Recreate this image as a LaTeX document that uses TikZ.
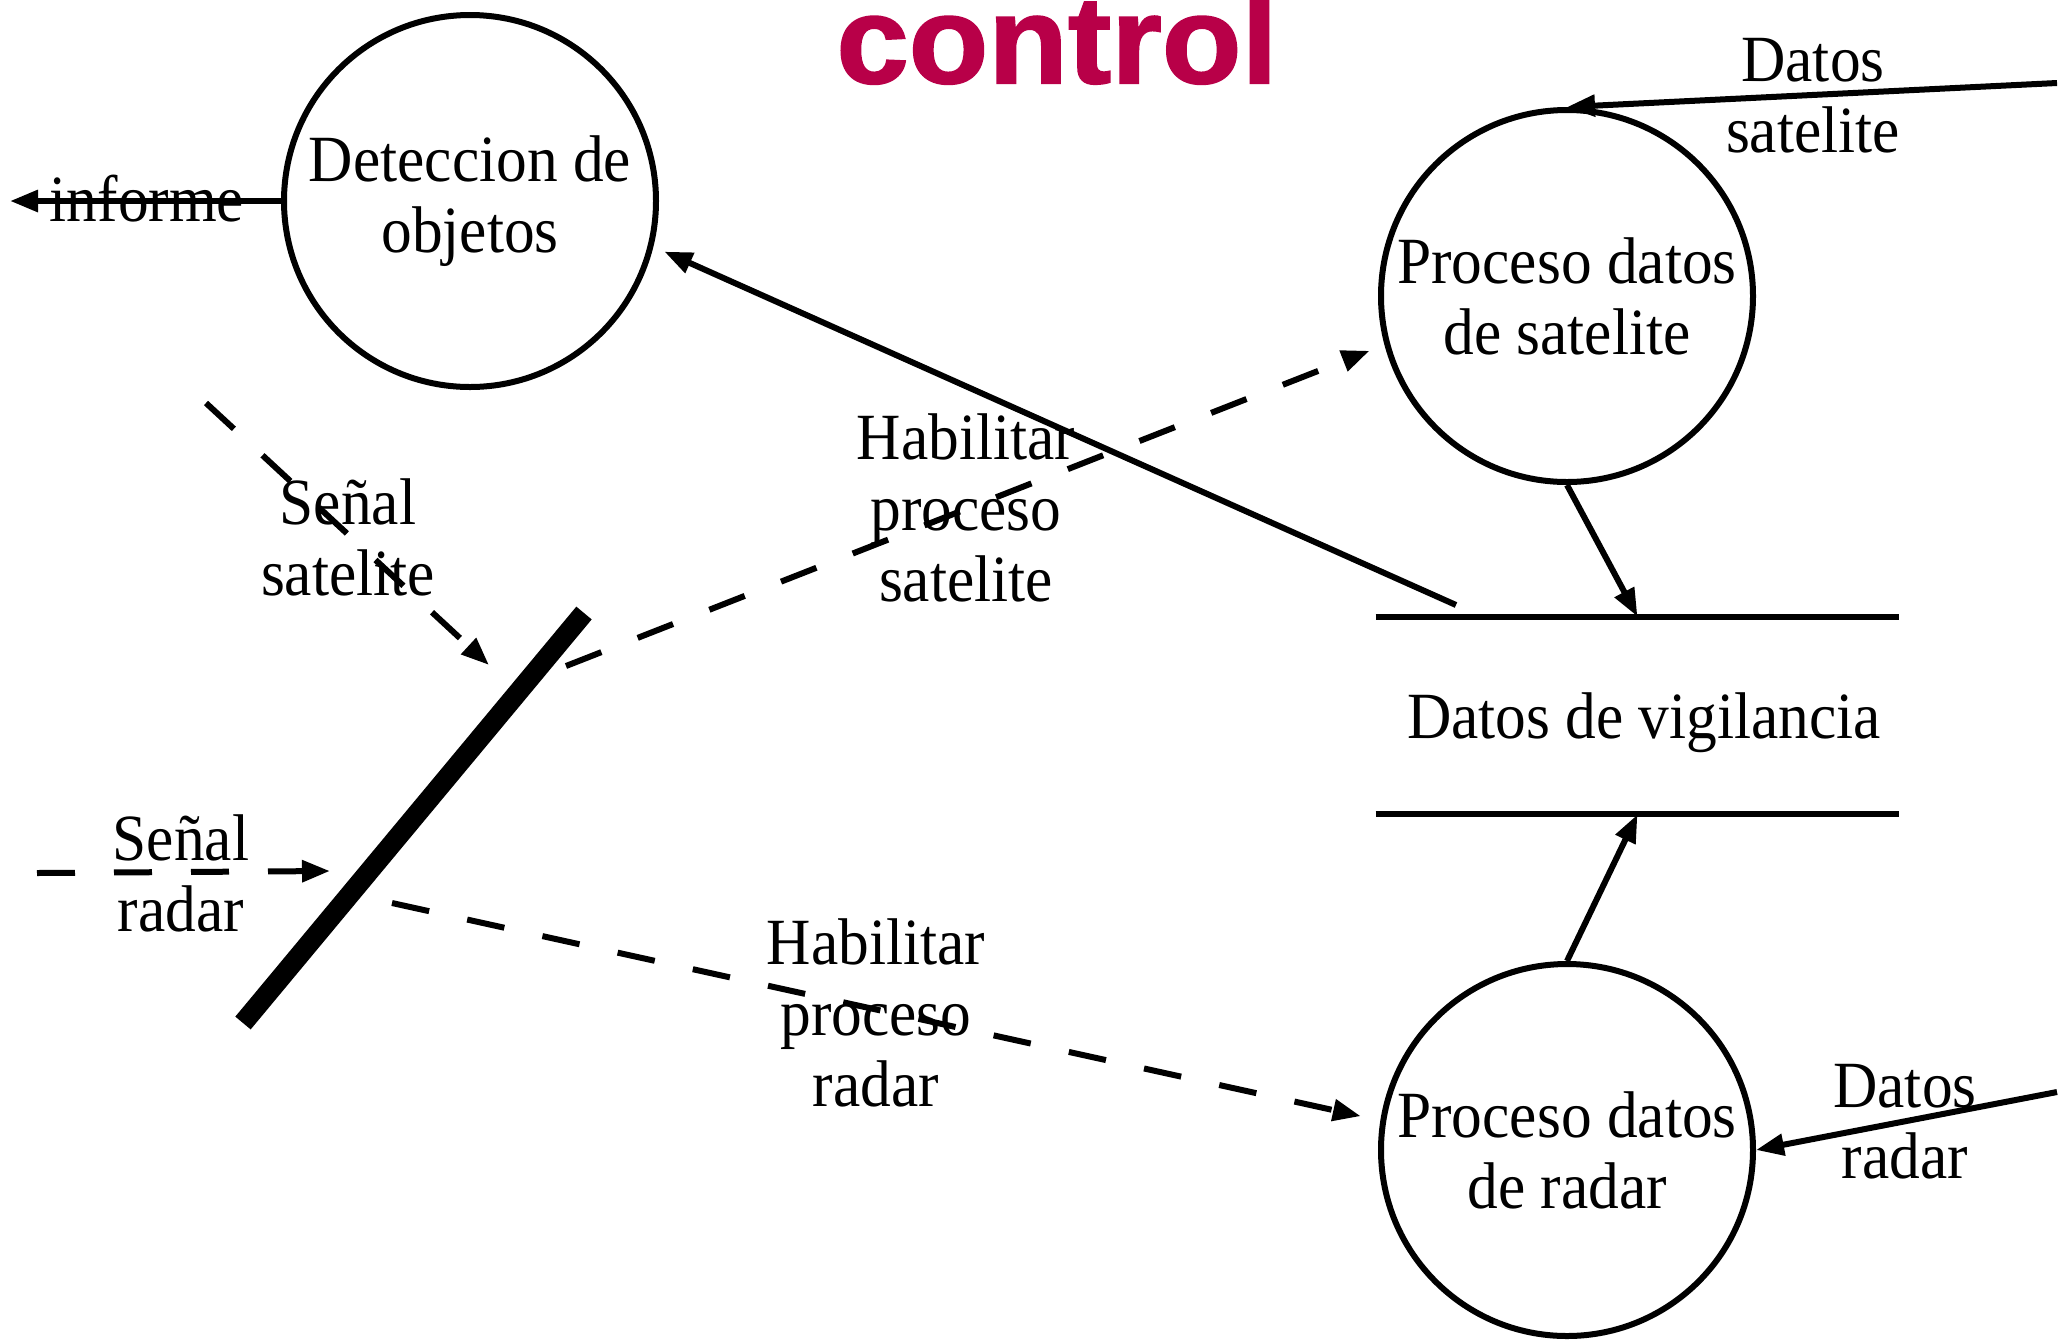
\documentclass[tikz,border=0pt]{standalone}
\usepackage{fontspec}
\setmainfont{Liberation Serif}[FakeStretch=0.93]
\newfontfamily\titlefont{Liberation Sans Bold}[FakeBold=1.6, FakeStretch=1.05]
\usetikzlibrary{arrows.meta}
\definecolor{ctitle}{RGB}{184,0,72}
\newcommand\lblfont{\fontsize{33}{35.5}\selectfont}
\tikzset{
  proc/.style={circle, draw, line width=3pt, minimum size=186pt, inner sep=0pt, align=center, font=\lblfont},
  lbl/.style={align=center, font=\lblfont, inner sep=0pt},
  flow/.style={line width=3pt, -{Triangle[length=14pt,width=10.5pt]}},
  ctrl/.style={flow, dash pattern=on 19pt off 19.5pt},
  storeline/.style={line width=3pt}
}
\begin{document}
\begin{tikzpicture}[x=0.5pt,y=-0.5pt]
\useasboundingbox (0,0) rectangle (2072,1340);
% title
\node[anchor=base, inner sep=0pt, text=ctitle] (title) at (1057,83)
  {\titlefont\fontsize{62}{63}\selectfont control};
% processes
\node[proc] (det) at (470,201) {Deteccion de\\objetos};
\node[proc] (ps) at (1567,296) {Proceso datos\\de satelite};
\node[proc] (pr) at (1567,1150) {Proceso datos\\de radar};
% store
\node[lbl, minimum width=261.5pt, minimum height=98.5pt, text height=23pt, text depth=0.5pt] (store) at (1637.5,715.5) {\hspace*{6.5pt}Datos de vigilancia};
\draw[storeline] (store.north west) -- (store.north east);
\draw[storeline] (store.south west) -- (store.south east);
% control bar
\coordinate (bartop) at (584,613);
\coordinate (barbot) at (243,1023);
\draw[line width=10pt] (bartop) -- (barbot);
% free ends
\coordinate (inf) at (10,201);
\coordinate (dsin) at (2057,83);
\coordinate (drin) at (2057,1092);
\coordinate (ssin) at (206,403);
\coordinate (ssout) at (489,665);
\coordinate (srin) at (37,873);
\coordinate (srout) at (330,871);
\coordinate (hsin) at (566,666);
\coordinate (hrin) at (392,903);
\coordinate (stout) at (1456,605);
% flows
\draw[flow] (det.west) -- (inf);
\draw[flow] (dsin) -- (ps.north);
\draw[flow] (drin) -- (pr.east);
\draw[flow] (ps.south) -- (store.north);
\draw[flow] (pr.north) -- (store.south);
\draw[flow, shorten >=6pt] (stout) -- (det.-14);
% control flows
\draw[ctrl] (ssin) -- (ssout);
\draw[ctrl] (srin) -- (srout);
\draw[ctrl, shorten >=8pt] (hsin) -- (ps.195);
\draw[ctrl, shorten >=10pt] (hrin) -- (pr.171);
% labels
\node[lbl] (linf) at (147,199) {informe};
\node[lbl] (lds) at (1813,96) {Datos\\satelite};
\node[lbl] (ldr) at (1905,1122) {Datos\\radar};
\node[lbl] (lss) at (348,537) {Señal\\satelite};
\node[lbl] (lsr) at (181,873) {Señal\\radar};
\node[lbl] (lhs) at (966,508) {Habilitar\\proceso\\satelite};
\node[lbl] (lhr) at (876,1013) {Habilitar\\proceso\\radar};
\end{tikzpicture}
\end{document}
